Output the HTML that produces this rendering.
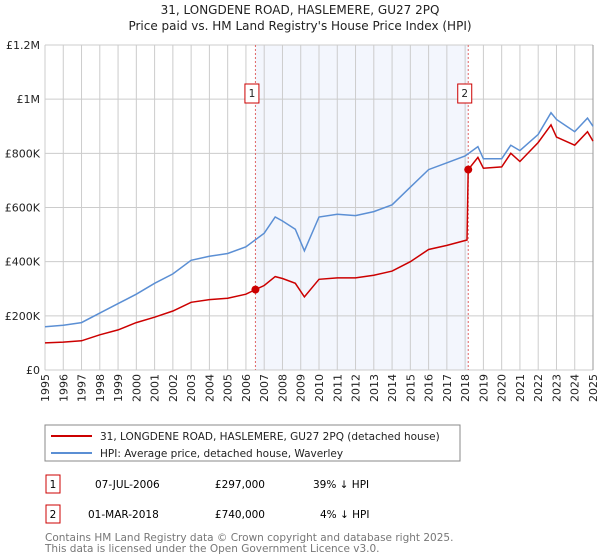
<!DOCTYPE html>
<html><head><meta charset="utf-8"><style>
body{margin:0;background:#fff;font-family:"Liberation Sans","DejaVu Sans",sans-serif;}
#wrap{position:relative;width:600px;height:560px;overflow:hidden;}
</style></head><body>
<div id="wrap">
<svg id="chart" width="600" height="560" font-family="DejaVu Sans, Liberation Sans, sans-serif">
<text x="300" y="14" text-anchor="middle" font-size="12" fill="#222">31, LONGDENE ROAD, HASLEMERE, GU27 2PQ</text>
<text x="300" y="30" text-anchor="middle" font-size="12" fill="#222">Price paid vs. HM Land Registry's House Price Index (HPI)</text>
<g id="grid"></g><g id="series"></g><g id="axes"></g>
<rect x="45" y="425" width="415" height="36" fill="#fff" stroke="#888"/>
<line x1="51" y1="436" x2="92" y2="436" stroke="#cc0000" stroke-width="2"/>
<text x="100" y="440" font-size="10.5" fill="#222">31, LONGDENE ROAD, HASLEMERE, GU27 2PQ (detached house)</text>
<line x1="51" y1="453" x2="92" y2="453" stroke="#5b8fd4" stroke-width="2"/>
<text x="100" y="457" font-size="10.5" fill="#222">HPI: Average price, detached house, Waverley</text>
<g>
<rect x="46" y="475" width="14" height="18" fill="#fff" stroke="#cc0000"/>
<text x="53" y="488" text-anchor="middle" font-size="10.5">1</text>
<text x="95" y="488" font-size="10.5">07-JUL-2006</text>
<text x="265" y="488" text-anchor="end" font-size="10.5">£297,000</text>
<text x="313" y="488" font-size="10.5">39% ↓ HPI</text></g>
<g>
<rect x="46" y="505" width="14" height="18" fill="#fff" stroke="#cc0000"/>
<text x="53" y="518" text-anchor="middle" font-size="10.5">2</text>
<text x="88" y="518" font-size="10.5">01-MAR-2018</text>
<text x="265" y="518" text-anchor="end" font-size="10.5">£740,000</text>
<text x="320" y="518" font-size="10.5">4% ↓ HPI</text></g>
<text x="45" y="541" font-size="10.5" fill="#777">Contains HM Land Registry data © Crown copyright and database right 2025.</text>
<text x="45" y="552" font-size="10.5" fill="#777">This data is licensed under the Open Government Licence v3.0.</text>
</svg></div>
<script>
const hpiYears=[1995,1996,1997,1998,1999,2000,2001,2002,2003,2004,2005,2006,2007,2007.6,2008,2008.7,2009.2,2010,2011,2012,2013,2014,2015,2016,2017,2018,2018.7,2019,2020,2020.5,2021,2022,2022.7,2023,2024,2024.7,2025];
const hpiValues=[160,165,175,210,245,280,320,355,405,420,430,455,505,565,550,520,440,565,575,570,585,610,675,740,765,790,825,780,780,830,810,870,950,925,880,930,900];
const propYears=[1995,1996,1997,1998,1999,2000,2001,2002,2003,2004,2005,2006,2006.52,2007,2007.6,2008,2008.7,2009.2,2010,2011,2012,2013,2014,2015,2016,2017,2018.1,2018.17,2018.7,2019,2020,2020.5,2021,2022,2022.7,2023,2024,2024.7,2025];
const propValues=[100,103,108,130,148,175,195,218,250,260,265,280,297,312,345,338,320,270,335,340,340,350,365,400,445,460,480,740,785,745,750,800,770,840,905,860,830,880,845];
const saleYears=[2006.52,2018.17];
const saleValues=[297,740];
const saleLabels=["1","2"];
const yTicks=[0,200,400,600,800,1000,1200];
const yTickLabels=["£0","£200K","£400K","£600K","£800K","£1M","£1.2M"];
const ns="http://www.w3.org/2000/svg";
const X0=45,X1=593,Y0=370,Y1=45;
const xs=y=>X0+(y-1995)/30*(X1-X0);
const ys=v=>Y0-v/1200*(Y0-Y1);
function mk(tag,attrs,parent){const e=document.createElementNS(ns,tag);for(const k in attrs)e.setAttribute(k,attrs[k]);parent.appendChild(e);return e;}
const grid=document.getElementById('grid'),series=document.getElementById('series'),axes=document.getElementById('axes');
let sh=mk('rect',{x:xs(saleYears[0]),y:Y1,width:xs(saleYears[1])-xs(saleYears[0]),height:Y0-Y1,fill:'#f3f6fd'},grid);


for(let yr=1995;yr<=2025;yr++){
 let l=mk('line',{x1:xs(yr),x2:xs(yr),y1:Y1,y2:Y0,stroke:'#ccc'},grid);
 
 
 const tx=xs(yr)+4,ty=374;
 let t=mk('text',{x:tx,y:ty,'font-size':11,fill:'#222','text-anchor':'end',transform:'rotate(-90 '+tx+' '+ty+')'},axes);
 t.textContent=yr;
 
 
}
yTicks.forEach((v,i)=>{
 let l=mk('line',{x1:X0,x2:X1,y1:ys(v),y2:ys(v),stroke:'#ccc'},grid);
 
 
 let t=mk('text',{x:40,y:ys(v)+4,'font-size':11,fill:'#222','text-anchor':'end'},axes);
 t.textContent=yTickLabels[i];
 
 
});
let rl=mk('line',{x1:X1,x2:X1,y1:Y1,y2:Y0,stroke:'#999'},grid);


saleYears.forEach((y,i)=>{
 let l=mk('line',{x1:xs(y),x2:xs(y),y1:Y1,y2:Y0,stroke:'#e06666','stroke-dasharray':'2,2'},grid);
 
 
});
function pts(a,b){return a.map((y,i)=>xs(y).toFixed(1)+','+ys(b[i]).toFixed(1)).join(' ');}
let hp=mk('polyline',{points:pts(hpiYears,hpiValues),fill:'none',stroke:'#5b8fd4','stroke-width':1.5},series);


let pp=mk('polyline',{points:pts(propYears,propValues),fill:'none',stroke:'#cc0000','stroke-width':1.5},series);


saleYears.forEach((y,i)=>{
 let c=mk('circle',{cx:xs(y),cy:ys(saleValues[i]),r:4,fill:'#cc0000'},series);
 
 
 let bx=xs(y)-3.5;
 let r=mk('rect',{x:bx-7,y:84,width:14,height:19,fill:'#fff',stroke:'#cc0000'},series);
 
 
 let t=mk('text',{x:bx,y:97,'text-anchor':'middle','font-size':10.5,fill:'#222'},series);
 t.textContent=saleLabels[i];
 
 
});
</script>
</body></html>
